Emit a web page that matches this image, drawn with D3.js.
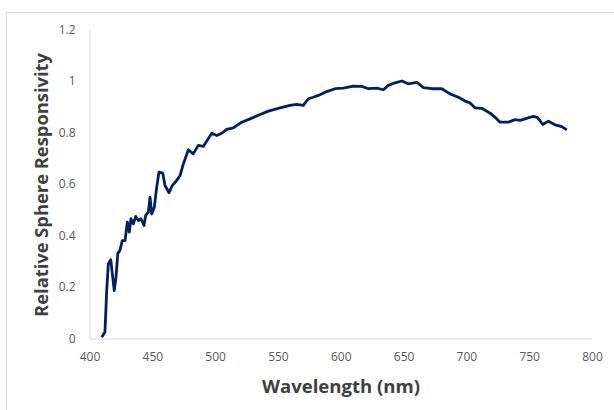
<!DOCTYPE html>
<html>
<head>
    <meta charset="UTF-8">
    <script src="https://d3js.org/d3.v7.min.js"></script>
    <style>
        body { margin: 0; background: white; }
    </style>
</head>
<body>
    <div id="chart"></div>
    <script>
     // wavelength (nm) and relative responsivity
     const wavelength = [409.7, 412.3, 413.7, 415.0, 416.9, 419.7, 421.1, 422.5, 424.3, 426.1,
                         428.3, 430.1, 431.7, 433.0, 434.9, 436.8, 438.9, 441.0, 443.4, 444.7,
                         446.8, 448.2, 449.5, 451.6, 453.5, 455.3, 458.3, 460.1, 463.3, 465.9,
                         469.4, 472.1, 474.7, 478.7, 482.6, 486.6, 490.6, 497.3, 501.3, 505.3,
                         509.2, 514.5, 521.2, 527.8, 535.8, 542.4, 551.7, 559.6, 565.0, 570.2,
                         574.2, 578.2, 582.2, 588.9, 595.5, 602.1, 610.0, 616.7, 622.0, 628.7,
                         633.9, 637.9, 643.2, 648.6, 653.8, 660.5, 665.8, 672.5, 680.4, 687.0,
                         693.6, 699.0, 702.9, 706.9, 712.3, 718.9, 722.9, 726.8, 733.4, 738.8,
                         742.8, 746.7, 753.3, 756.5, 760.8, 765.3, 770.6, 776.0, 779.9];
     const responsivity = [0.005, 0.025, 0.186, 0.29, 0.306, 0.186, 0.238, 0.329, 0.344, 0.38,
                           0.38, 0.452, 0.413, 0.465, 0.445, 0.474, 0.458, 0.465, 0.439, 0.478,
                           0.49, 0.549, 0.484, 0.51, 0.588, 0.646, 0.642, 0.594, 0.566, 0.594,
                           0.614, 0.633, 0.678, 0.733, 0.717, 0.75, 0.746, 0.797, 0.788, 0.797,
                           0.812, 0.818, 0.84, 0.853, 0.87, 0.883, 0.896, 0.905, 0.909, 0.905,
                           0.931, 0.937, 0.944, 0.959, 0.97, 0.972, 0.98, 0.979, 0.97, 0.972,
                           0.966, 0.983, 0.993, 1.0, 0.989, 0.995, 0.974, 0.97, 0.97, 0.95,
                           0.937, 0.922, 0.915, 0.896, 0.894, 0.875, 0.859, 0.84, 0.84, 0.85,
                           0.847, 0.853, 0.863, 0.859, 0.831, 0.844, 0.83, 0.823, 0.81];
     const xTicks = [400, 450, 500, 550, 600, 650, 700, 750, 800];
     const yTicks = [0, 0.2, 0.4, 0.6, 0.8, 1, 1.2];

     const width = 614, height = 410;
     const plot = {left: 89.5, right: 592, top: 29.5, bottom: 338.5};
     const font = "'Open Sans', 'Liberation Sans', sans-serif";

     let svg = d3.select("#chart").append("svg")
                 .attr("width", width)
                 .attr("height", height);

     // chart border
     svg.append("rect")
        .attr("x", 6.5).attr("y", 12.5)
        .attr("width", width).attr("height", height)
        .attr("fill", "white")
        .attr("stroke", "#d9d9d9");

     let x = d3.scaleLinear().domain([400, 800]).range([plot.left, plot.right]);
     let y = d3.scaleLinear().domain([0, 1.2]).range([plot.bottom, plot.top]);

     // axes without tick marks
     let xAxis = svg.append("g")
         .attr("transform", `translate(0,${plot.bottom})`)
         .call(d3.axisBottom(x).tickValues(xTicks).tickSize(0).tickPadding(14).tickFormat(d3.format("d")));
     let yAxis = svg.append("g")
         .attr("transform", `translate(${plot.left},0)`)
         .call(d3.axisLeft(y).tickValues(yTicks).tickSize(0).tickPadding(14).tickFormat(d => String(d)));

     [xAxis, yAxis].forEach(function(ax) {
         ax.select(".domain").attr("stroke", "#d9d9d9").attr("stroke-width", 1);
         ax.selectAll("text")
           .attr("fill", "#595959")
           .style("font-family", font)
           .style("font-size", "12px");
     });

     let data = wavelength.map((w, i) => ({w: w, v: responsivity[i]}));
     let line = d3.line().x(d => x(d.w)).y(d => y(d.v));

     svg.append("path")
        .datum(data)
        .attr("d", line)
        .attr("fill", "none")
        .attr("stroke", "#002060")
        .attr("stroke-width", 2.8)
        .attr("stroke-linejoin", "round");

     // axis titles, squeezed to the widths seen in the picture
     function fit(sel, target) {
         let len = sel.node().getComputedTextLength();
         let size = parseFloat(sel.style("font-size"));
         sel.style("font-size", (size * target / len) + "px");
     }

     let xt = svg.append("text")
         .attr("x", 341).attr("y", 393)
         .attr("text-anchor", "middle")
         .attr("fill", "#404040")
         .style("font-family", font)
         .style("font-weight", "bold")
         .style("font-size", "18px")
         .text("Wavelength (nm)");
     fit(xt, 158);

     let yt = svg.append("text")
         .attr("transform", "translate(48,185) rotate(-90)")
         .attr("text-anchor", "middle")
         .attr("fill", "#404040")
         .style("font-family", font)
         .style("font-weight", "bold")
         .style("font-size", "18px")
         .text("Relative Sphere Responsivity");
     fit(yt, 264);
    </script>
</body>
</html>
